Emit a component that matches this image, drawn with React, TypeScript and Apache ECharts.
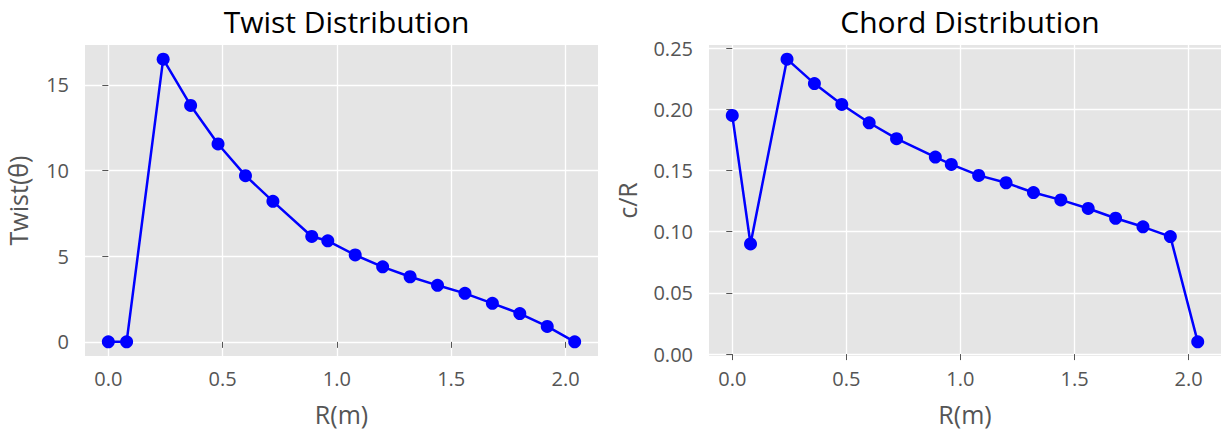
import React, { useEffect, useRef } from "react";
import * as echarts from "echarts";

// ---- data ----
const radius: number[] = [0, 0.08, 0.24, 0.36, 0.48, 0.6, 0.72, 0.89, 0.96, 1.08, 1.2, 1.32, 1.44, 1.56, 1.68, 1.8, 1.92, 2.04];
const twist: number[] = [0, 0, 16.5, 13.8, 11.55, 9.7, 8.2, 6.15, 5.9, 5.07, 4.38, 3.8, 3.3, 2.83, 2.25, 1.65, 0.9, 0];
const chord: number[] = [0.195, 0.09, 0.241, 0.221, 0.204, 0.189, 0.176, 0.161, 0.155, 0.146, 0.14, 0.132, 0.126, 0.119, 0.111, 0.104, 0.096, 0.01];

const xTicks: number[] = [0, 0.5, 1.0, 1.5, 2.0];
const twistTicks: number[] = [0, 5, 10, 15];
const chordTicks: number[] = [0, 0.05, 0.1, 0.15, 0.2, 0.25];

const titles: string[] = ["Twist Distribution", "Chord Distribution"];
const xName = "R(m)";
const yNames: string[] = ["Twist(θ)", "c/R"];

// matplotlib-like 5% autoscale margins
function padded(vals: number[]): [number, number] {
  const lo = Math.min(...vals);
  const hi = Math.max(...vals);
  const m = (hi - lo) * 0.05;
  return [lo - m, hi + m];
}

const FONT = "Open Sans";
const GREY = "#555555";

export default function App() {
  const ref = useRef<HTMLDivElement>(null);

  useEffect(() => {
    document.body.style.margin = "0";
    if (!ref.current) return;
    const chart = echarts.init(ref.current, undefined, { renderer: "svg" });

    const [xMin, xMax] = padded(radius);
    const [tMin, tMax] = padded(twist);
    const [cMin, cMax] = padded(chord);

    const grids = [
      { left: 85, top: 45, width: 513, height: 311 },
      { left: 709, top: 45, width: 512, height: 311 },
    ];

    const makeX = (gi: number) => ({
      type: "value",
      gridIndex: gi,
      min: xMin,
      max: xMax,
      name: xName,
      nameLocation: "middle",
      nameGap: 45,
      nameTextStyle: { fontFamily: FONT, fontSize: 25, color: GREY },
      axisLine: { show: false },
      axisTick: { show: true, length: 6, customValues: xTicks, lineStyle: { color: GREY, width: 1 } },
      axisLabel: {
        customValues: xTicks,
        margin: 12,
        fontFamily: FONT,
        fontSize: 20,
        color: GREY,
        formatter: (v: number) => v.toFixed(1),
      },
      splitLine: { show: true, lineStyle: { color: "#ffffff", width: 1.3 } },
    });

    const makeY = (gi: number, min: number, max: number, ticks: number[], name: string, gap: number, dec: number) => ({
      type: "value",
      gridIndex: gi,
      min,
      max,
      name,
      nameLocation: "middle",
      nameGap: gap,
      nameTextStyle: { fontFamily: FONT, fontSize: 25, color: GREY },
      axisLine: { show: false },
      axisTick: { show: true, length: 6, customValues: ticks, lineStyle: { color: GREY, width: 1 } },
      axisLabel: {
        customValues: ticks,
        margin: 16,
        fontFamily: FONT,
        fontSize: 20,
        color: GREY,
        formatter: (v: number) => v.toFixed(dec),
      },
      splitLine: { show: true, lineStyle: { color: "#ffffff", width: 1.3 } },
    });

    const lineSeries = (gi: number, ys: number[]) => ({
      type: "line",
      xAxisIndex: gi,
      yAxisIndex: gi,
      data: radius.map((r, i) => [r, ys[i]]),
      symbol: "circle",
      symbolSize: 13,
      lineStyle: { color: "#0000FF", width: 2.5 },
      itemStyle: { color: "#0000FF" },
      emphasis: { disabled: true },
    });

    chart.setOption({
      animation: false,
      title: titles.map((t, i) => ({
        text: t,
        left: grids[i].left + grids[i].width / 2,
        textAlign: "center",
        top: 1,
        textStyle: { fontFamily: FONT, fontSize: 30, fontWeight: "normal", color: "#000000" },
      })),
      grid: grids.map((g) => ({
        ...g,
        show: true,
        backgroundColor: "#E5E5E5",
        borderWidth: 0,
        containLabel: false,
      })),
      xAxis: [makeX(0), makeX(1)],
      yAxis: [
        makeY(0, tMin, tMax, twistTicks, yNames[0], 55, 0),
        makeY(1, cMin, cMax, chordTicks, yNames[1], 70, 2),
      ],
      series: [lineSeries(0, twist), lineSeries(1, chord)],
    });

    return () => chart.dispose();
  }, []);

  return <div ref={ref} style={{ width: 1225, height: 434 }} />;
}
